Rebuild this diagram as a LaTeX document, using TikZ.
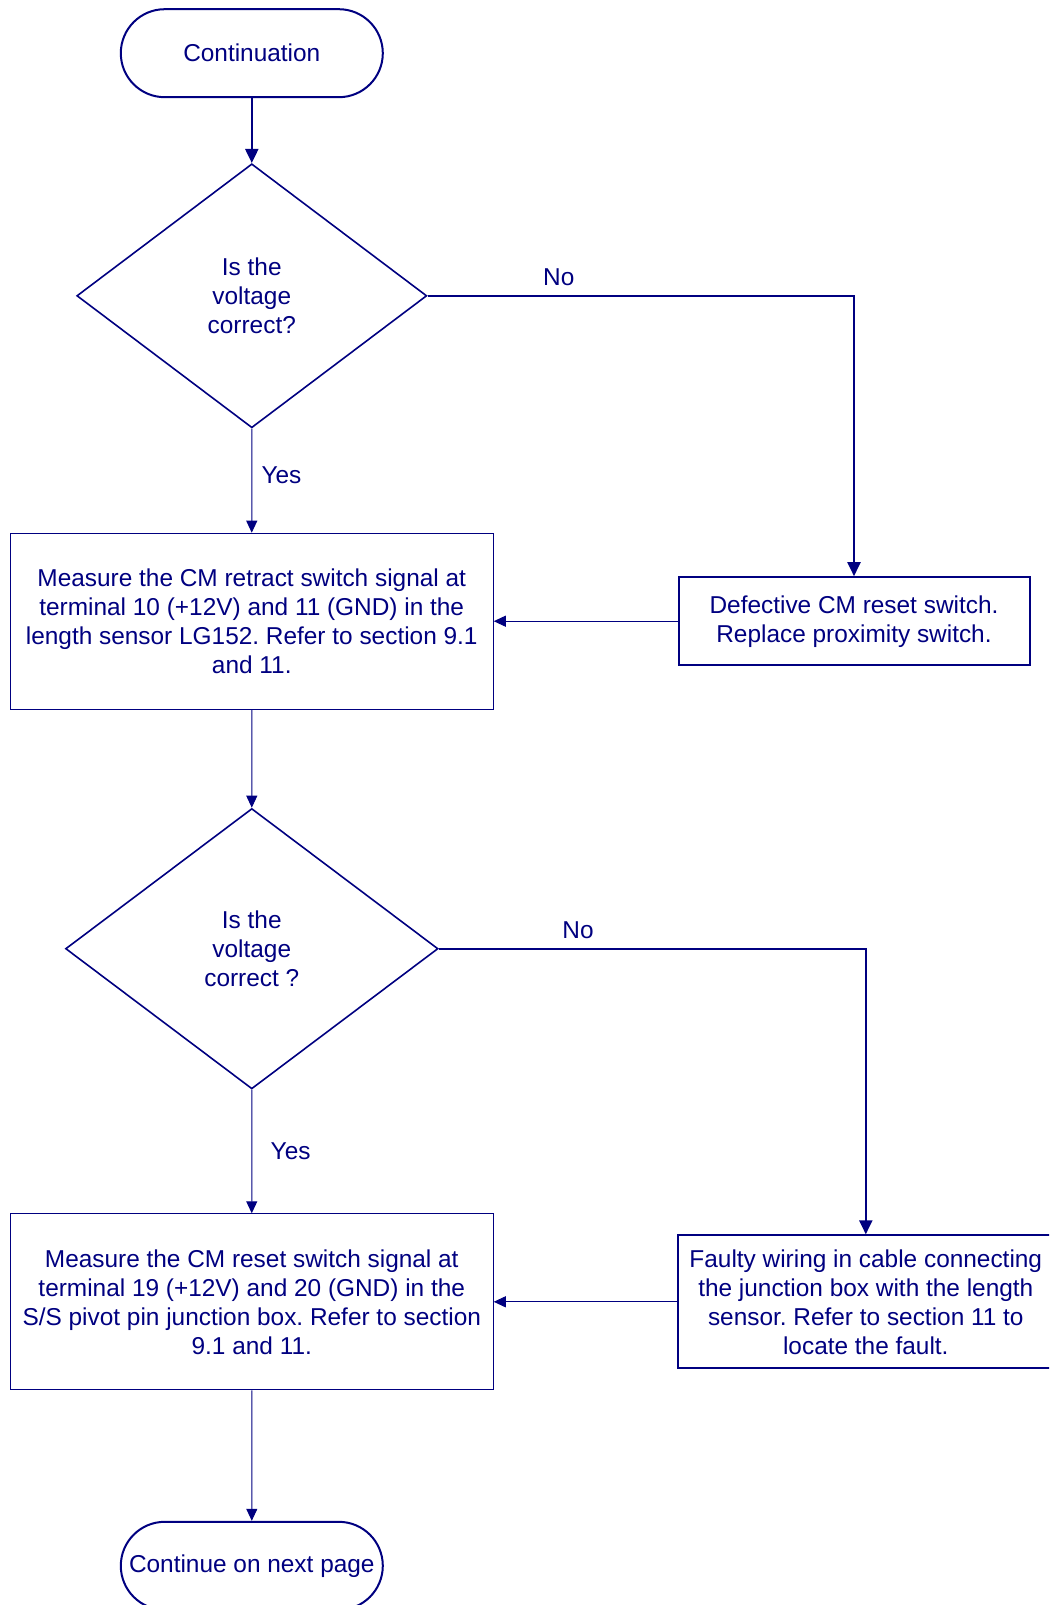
\documentclass[tikz,border=0pt]{standalone}
\usepackage{fontspec}
\setmainfont{Liberation Sans}
\usetikzlibrary{shapes.geometric,arrows.meta}
\definecolor{ink}{RGB}{0,0,128}
\frenchspacing
\begin{document}
\begin{tikzpicture}[x=1pt,y=-1pt,
  every node/.style={text=ink,font=\fontsize{24.4}{29}\selectfont,align=center},
  terminal/.style={draw=ink,line width=2pt,rounded corners=44pt,minimum width=262pt,minimum height=88pt,inner sep=0pt},
  decision/.style={draw=ink,line width=1.6pt,diamond,inner sep=0pt},
  taskbox/.style={draw=ink,line width=1pt,rectangle,inner sep=0pt,minimum width=483pt,minimum height=176pt},
  faultbox/.style={draw=ink,line width=2pt,rectangle,inner sep=0pt},
  strong/.style={draw=ink,line width=2pt,-{Triangle[length=14pt,width=13pt]}},
  weak/.style={draw=ink,line width=1pt,-{Triangle[length=12pt,width=11pt]}},
  tag/.style={text=ink}]
\useasboundingbox (0,0) rectangle (1049,1605);
\clip (0,0) rectangle (1049,1605);

% nodes
\node[terminal] (start) at (251.8,53.2) {Continuation};
\node[decision,minimum width=350pt,minimum height=264pt] (q1) at (251.8,295.8) {Is the\\voltage\\correct?};
\node[taskbox] (m1) at (251.75,621.2) {Measure the CM retract switch signal at\\terminal 10 (+12V) and 11 (GND) in the\\length sensor LG152. Refer to section 9.1\\and 11.};
\node[faultbox,minimum width=351pt,minimum height=88pt] (f1) at (854,621.2) {Defective CM reset switch.\\Replace proximity switch.};
\node[decision,minimum width=372.5pt,minimum height=280.4pt] (q2) at (251.8,948.7) {Is the\\voltage\\correct ?};
\node[taskbox] (m2) at (251.75,1301.8) {Measure the CM reset switch signal at\\terminal 19 (+12V) and 20 (GND) in the\\S/S pivot pin junction box. Refer to section\\9.1 and 11.};
\node[faultbox,minimum width=375pt,minimum height=133pt] (f2) at (865.8,1301.8) {Faulty wiring in cable connecting\\the junction box with the length\\sensor. Refer to section 11 to\\locate the fault.};
\node[terminal] (next) at (251.8,1565.8) {Continue on next page};

% connectors
\draw[strong] (start.south) -- (q1.north);
\draw[weak] (q1.south) -- (m1.north);
\draw[strong] (q1.east) -| (f1.north);
\draw[weak] (f1.west) -- (m1.east);
\draw[weak] (m1.south) -- (q2.north);
\draw[strong] (q2.east) -| (f2.north);
\draw[weak] (q2.south) -- (m2.north);
\draw[weak] (f2.west) -- (m2.east);
\draw[weak] (m2.south) -- (next.north);

% branch labels
\node[tag] (no1) at (558.8,277.3) {No};
\node[tag] (yes1) at (281.4,474.9) {Yes};
\node[tag] (no2) at (578,930) {No};
\node[tag] (yes2) at (290.6,1151.3) {Yes};
\end{tikzpicture}
\end{document}
